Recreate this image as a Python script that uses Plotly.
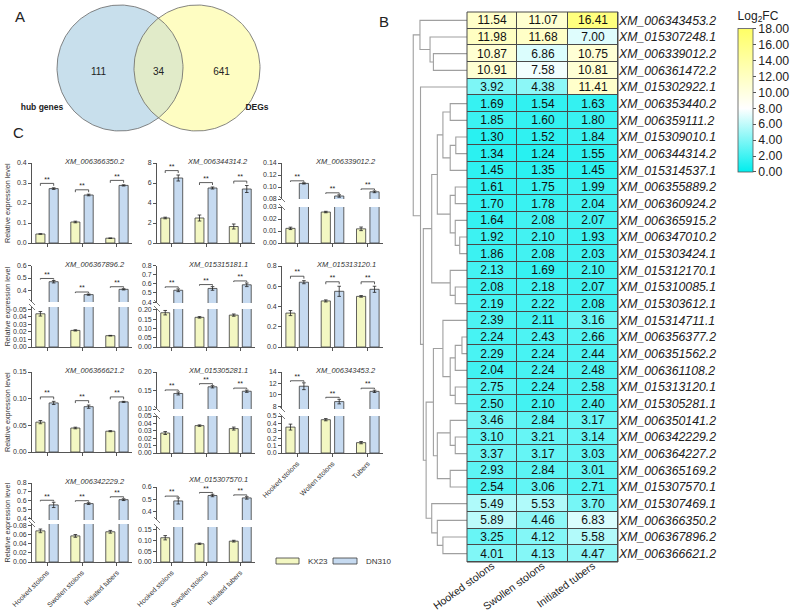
import numpy as np
import plotly.graph_objects as go

W, H = 791, 611
FONT = "Liberation Sans"
TXT = "#222222"


def px(x):
    return x / W


def py(y):
    return 1 - y / H


# ---------------- data ----------------
venn_sets = ["hub genes", "DEGs"]
venn_counts = [111, 34, 641]  # hub only, shared, DEGs only

genes = ["XM_006343453.2", "XM_015307248.1", "XM_006339012.2", "XM_006361472.2", "XM_015302922.1",
         "XM_006353440.2", "XM_006359111.2", "XM_015309010.1", "XM_006344314.2", "XM_015314537.1",
         "XM_006355889.2", "XM_006360924.2", "XM_006365915.2", "XM_006347010.2", "XM_015303424.1",
         "XM_015312170.1", "XM_015310085.1", "XM_015303612.1", "XM_015314711.1", "XM_006356377.2",
         "XM_006351562.2", "XM_006361108.2", "XM_015313120.1", "XM_015305281.1", "XM_006350141.2",
         "XM_006342229.2", "XM_006364227.2", "XM_006365169.2", "XM_015307570.1", "XM_015307469.1",
         "XM_006366350.2", "XM_006367896.2", "XM_006366621.2"]
stages = ["Hooked stolons", "Swollen stolons", "Initiated tubers"]
fc_hooked = [11.54, 11.98, 10.87, 10.91, 3.92, 1.69, 1.85, 1.30, 1.34, 1.45, 1.61, 1.70, 1.64, 1.92, 1.86,
             2.13, 2.08, 2.19, 2.39, 2.24, 2.29, 2.04, 2.75, 2.50, 3.46, 3.10, 3.37, 2.93, 2.54, 5.49, 5.89,
             3.25, 4.01]
fc_swollen = [11.07, 11.68, 6.86, 7.58, 4.38, 1.54, 1.60, 1.52, 1.24, 1.35, 1.75, 1.78, 2.08, 2.10, 2.08,
              1.69, 2.18, 2.22, 2.11, 2.43, 2.24, 2.24, 2.24, 2.10, 2.84, 3.21, 3.17, 2.84, 3.06, 5.53, 4.46,
              4.12, 4.13]
fc_initiated = [16.41, 7.00, 10.75, 10.81, 11.41, 1.63, 1.80, 1.84, 1.55, 1.45, 1.99, 2.04, 2.07, 1.93, 2.03,
                2.10, 2.07, 2.08, 3.16, 2.66, 2.44, 2.48, 2.58, 2.40, 3.17, 3.14, 3.03, 3.01, 2.71, 3.70, 6.83,
                5.58, 4.47]
cbar_ticks = [0, 2, 4, 6, 8, 10, 12, 14, 16, 18]


# dendrogram topology: (left, right, height); leaves are row indices
def N(a, b, h):
    return (a, b, h)


top4 = N(0, N(1, N(2, 3, 0.60), 0.66), 0.84)
g5_9 = N(N(5, 6, 0.30), N(N(7, 8, 0.20), 9, 0.30), 0.43)
g10_14 = N(N(10, 11, 0.21), N(12, N(13, 14, 0.13), 0.21), 0.30)
g5_14 = N(g5_9, g10_14, 0.53)
g15_17 = N(15, N(16, 17, 0.21), 0.30)
g5_17 = N(g5_14, g15_17, 0.63)
g18_23 = N(18, N(N(N(19, 20, 0.09), 21, 0.21), N(22, 23, 0.21), 0.30), 0.43)
g24_28 = N(N(24, N(25, 26, 0.21), 0.30), N(27, 28, 0.30), 0.53)
g18_28 = N(g18_23, g24_28, 0.60)
g29_32 = N(29, N(30, N(31, 32, 0.43), 0.53), 0.63)
g18_32 = N(g18_28, g29_32, 0.73)
tree = N(top4, N(4, N(g5_17, g18_32, 0.78), 0.83), 0.96)

bar_genes = ["XM_006366350.2", "XM_006344314.2", "XM_006339012.2", "XM_006367896.2", "XM_015315181.1",
             "XM_015313120.1", "XM_006366621.2", "XM_015305281.1", "XM_006343453.2", "XM_006342229.2",
             "XM_015307570.1"]
stage_labels = ["Hooked stolons", "Swollen stolons", "Initiated tubers"]
stage_labels_p9 = ["Hooked stolons", "Wollen stolons", "Tubers"]
kx23 = [[0.045, 0.105, 0.024], [2.5, 2.5, 1.65], [0.0122, 0.0258, 0.0118], [0.044, 0.022, 0.015],
        [0.185, 0.160, 0.172], [0.335, 0.455, 0.500], [0.056, 0.045, 0.039], [0.027, 0.037, 0.033],
        [0.35, 0.45, 0.14], [0.068, 0.057, 0.066], [0.113, 0.085, 0.097]]
kx23_err = [[0.001, 0.004, 0.001], [0.08, 0.3, 0.25], [0.001, 0.0006, 0.0015], [0.003, 0.0008, 0.0004],
            [0.012, 0.004, 0.006], [0.025, 0.01, 0.008], [0.003, 0.0015, 0.001], [0.002, 0.001, 0.002],
            [0.04, 0.015, 0.015], [0.004, 0.003, 0.003], [0.01, 0.003, 0.004]]
dn310 = [[0.272, 0.240, 0.288], [6.5, 5.5, 5.4], [0.106, 0.085, 0.092], [0.47, 0.365, 0.408],
         [0.53, 0.55, 0.59], [0.64, 0.55, 0.57], [0.092, 0.085, 0.094], [0.142, 0.160, 0.148],
         [11.5, 8.8, 10.6], [0.55, 0.565, 0.61], [0.485, 0.53, 0.51]]
dn310_err = [[0.004, 0.004, 0.003], [0.3, 0.1, 0.35], [0.001, 0.002, 0.0015], [0.01, 0.005, 0.005],
             [0.015, 0.02, 0.02], [0.015, 0.05, 0.03], [0.003, 0.003, 0.001], [0.004, 0.003, 0.003],
             [0.6, 0.4, 0.2], [0.03, 0.01, 0.01], [0.025, 0.01, 0.01]]
series_names = ["KX23", "DN310"]

# ---------------- layout geometry (pixels) ----------------
cols_x = [(32, 132), (157, 255), (282, 383)]
# each panel: column, segments (top_px, bottom_px, range, tickvals, fmt) from top to bottom, x labels, title y
panel_geo = [
    (0, [(163, 243, [0, 0.4], [0, 0.1, 0.2, 0.3, 0.4], ".1f")], None, 162),
    (1, [(163, 243, [0, 8], [0, 2, 4, 6, 8], ".0f")], None, 162),
    (2, [(163, 199, [0.08, 0.14], [0.08, 0.10, 0.12, 0.14], ".2f"),
         (207, 243, [0, 0.03], [0, 0.01, 0.02, 0.03], ".2f")], None, 162),
    (0, [(265.7, 302, [0.305, 0.6], [0.4, 0.5, 0.6], ".1f"),
         (307, 347, [0, 0.053], [0, 0.01, 0.02, 0.03, 0.04, 0.05], ".2f")], None, 264),
    (1, [(265.7, 303, [0.39, 0.8], [0.4, 0.5, 0.6, 0.7, 0.8], ".1f"),
         (309, 347, [0, 0.205], [0, 0.05, 0.10, 0.15, 0.20], ".2f")], None, 264),
    (2, [(266, 347, [0, 0.8], [0, 0.2, 0.4, 0.6, 0.8], ".1f")], None, 264),
    (0, [(372, 452, [0, 0.15], [0, 0.05, 0.10, 0.15], ".2f")], None, 370),
    (1, [(372, 409, [0.10, 0.20], [0.10, 0.15, 0.20], ".2f"),
         (416, 453, [0, 0.05], [0, 0.01, 0.02, 0.03, 0.04, 0.05], ".2f")], None, 370),
    (2, [(372, 409, [7.5, 14], [8, 10, 12, 14], ".0f"),
         (416, 453, [0, 0.5], [0, 0.1, 0.2, 0.3, 0.4, 0.5], ".1f")], stage_labels_p9, 370),
    (0, [(483, 520, [0.378, 0.8], [0.4, 0.5, 0.6, 0.7, 0.8], ".1f"),
         (524, 562, [0, 0.083], [0, 0.02, 0.04, 0.06, 0.08], ".2f")], stage_labels, 481),
    (1, [(487, 520, [0.328, 0.6], [0.4, 0.5, 0.6], ".1f"),
         (527, 562, [0, 0.163], [0, 0.05, 0.10, 0.15], ".2f")], stage_labels, 479),
]
YELLOW = "#F3F7C2"
BLUE = "#C6DAF0"
AXC = "#555555"

layout = dict(width=W, height=H, margin=dict(l=0, r=0, t=0, b=0, autoexpand=False), autosize=False,
              paper_bgcolor="white", plot_bgcolor="rgba(0,0,0,0)", showlegend=False,
              barmode="overlay", font=dict(family=FONT, color=TXT), hovermode=False)
traces, shapes, annotations = [], [], []
cnt = [0]


def add_axes(xd, yd, xa, ya):
    cnt[0] += 1
    s = "" if cnt[0] == 1 else str(cnt[0])
    xdict = dict(domain=[px(xd[0]), px(xd[1])], anchor="y" + s, automargin=False)
    xdict.update(xa)
    layout["xaxis" + s] = xdict
    layout["yaxis" + s] = dict(domain=[py(yd[1]), py(yd[0])], anchor="x" + s, automargin=False, **ya)
    return "x" + s, "y" + s


# ---------------- A: Venn ----------------
vx, vy = add_axes((0, 395), (0, 140), dict(range=[0, 395], visible=False),
                  dict(range=[140, 0], visible=False))
r = 63.0
c1, c2, cy = 120.0, 197.0, 68.0
th = np.linspace(0, 2 * np.pi, 240)
for cx, col in [(c1, "#C8DFEC"), (c2, "#FEFDC2")]:
    traces.append(go.Scatter(x=cx + r * np.cos(th), y=cy + r * np.sin(th), mode="lines", fill="toself",
                             fillcolor=col, line=dict(width=0), xaxis=vx, yaxis=vy, hoverinfo="skip"))
d = c2 - c1
alpha = np.arccos((d / 2) / r)
ta = np.linspace(-alpha, alpha, 80)
tb = np.linspace(np.pi - alpha, np.pi + alpha, 80)
lx = np.concatenate([c1 + r * np.cos(ta), c2 + r * np.cos(tb)])
ly = np.concatenate([cy + r * np.sin(ta), cy + r * np.sin(tb)])
traces.append(go.Scatter(x=lx, y=ly, mode="lines", fill="toself", fillcolor="#E1EBC9",
                         line=dict(width=0), xaxis=vx, yaxis=vy, hoverinfo="skip"))
for cx in (c1, c2):
    traces.append(go.Scatter(x=cx + r * np.cos(th), y=cy + r * np.sin(th), mode="lines",
                             line=dict(color="#666666", width=0.8), xaxis=vx, yaxis=vy, hoverinfo="skip"))
region_x = [((c1 - r) + (c2 - r)) / 2 + 3, (c1 + c2) / 2, ((c1 + r) + (c2 + r)) / 2]
traces.append(go.Scatter(x=region_x, y=[cy + 4] * 3, mode="text", text=[str(v) for v in venn_counts],
                         textfont=dict(size=10, color=TXT, family=FONT), xaxis=vx, yaxis=vy,
                         hoverinfo="skip"))
traces.append(go.Scatter(x=[c1 - r - 15, c2 + r - 3], y=[cy + 40, cy + 40], mode="text",
                         text=["<b>%s</b>" % s for s in venn_sets],
                         textfont=dict(size=8.5, color=TXT, family=FONT), xaxis=vx, yaxis=vy,
                         hoverinfo="skip"))

# ---------------- B: heatmap ----------------
hx, hy = add_axes((467, 618), (12, 562),
                  dict(range=[-0.5, 2.5], tickangle=-36, tickfont=dict(size=10.5, color=TXT, family=FONT),
                       ticks="", showgrid=False, zeroline=False, showline=False,
                       anchor="free", position=py(557)),
                  dict(range=[32.5, -0.5], side="right", showgrid=False, zeroline=False, ticks="",
                       tickfont=dict(size=12.3, color=TXT, family=FONT, style="italic")))
z = [[a, b, c] for a, b, c in zip(fc_hooked, fc_swollen, fc_initiated)]
shapes.append(dict(type="rect", xref=hx + " domain", yref=hy + " domain", x0=0, x1=1, y0=0, y1=1,
                   fillcolor="#4A4A4A", line=dict(width=0), layer="below"))
traces.append(go.Heatmap(
    z=z, x=stages, y=genes, xaxis=hx, yaxis=hy, zmin=0, zmax=18, xgap=1, ygap=1,
    colorscale=[[0, "#00EEEE"], [8 / 18, "#FFFFFF"], [1, "#FFFF66"]],
    texttemplate="%{z:.2f}", textfont=dict(size=12, color="#111111", family=FONT), hoverinfo="skip",
    colorbar=dict(x=px(738), xanchor="left", y=py(8), yanchor="top", len=164 / H, lenmode="fraction",
                  thickness=15, thicknessmode="pixels", xpad=0, ypad=0, outlinewidth=0.8,
                  outlinecolor="#555555", tickvals=cbar_ticks, ticktext=["%.2f" % t for t in cbar_ticks],
                  ticks="outside", ticklen=3, tickcolor="#555555",
                  tickfont=dict(size=12.3, color=TXT, family=FONT),
                  title=dict(text="Log<sub>2</sub>FC", side="top", font=dict(size=12, color=TXT, family=FONT)))))
shapes.append(dict(type="rect", xref=hx + " domain", yref=hy + " domain", x0=0, x1=1, y0=0, y1=1,
                   line=dict(color="#4A4A4A", width=1), layer="above"))

# dendrogram
dx, dy = add_axes((411, 467), (12, 562), dict(range=[1, 0], visible=False),
                  dict(range=[32.5, -0.5], visible=False))
lxs, lys = [], []


def draw(node):
    if isinstance(node, int):
        return float(node), 0.0
    a, b, h = node
    ya, ha = draw(a)
    yb, hb = draw(b)
    lxs.extend([ha, h, h, hb, None])
    lys.extend([ya, ya, yb, yb, None])
    return (ya + yb) / 2, h


draw(tree)
traces.append(go.Scatter(x=lxs, y=lys, mode="lines", line=dict(color="#A0A0A0", width=1.1),
                         xaxis=dx, yaxis=dy, hoverinfo="skip"))

# ---------------- C: bar panels ----------------
off, bw = 0.19, 0.26
grp = np.arange(3)
for p, (col, segs, xlabels, title_y) in enumerate(panel_geo):
    x0p, x1p = cols_x[col]
    nseg = len(segs)
    for j, (tp, bp, rng, tv, fmt) in enumerate(segs):
        last = j == nseg - 1
        xa = dict(range=[-0.43, 2.43], showgrid=False, zeroline=False, fixedrange=True)
        if last:
            xa.update(showline=True, linecolor=AXC, linewidth=0.8, ticks="outside", ticklen=3,
                      tickwidth=0.8, tickcolor=AXC, tickvals=list(grp),
                      ticktext=xlabels if xlabels else ["", "", ""],
                      showticklabels=bool(xlabels), tickangle=-45,
                      tickfont=dict(size=7.0, color="#333333", family=FONT))
        else:
            xa.update(visible=False)
        ya = dict(range=rng, showgrid=False, zeroline=False, showline=True, linecolor=AXC, linewidth=0.8,
                  ticks="outside", ticklen=3, tickwidth=0.8, tickcolor=AXC, tickvals=tv,
                  ticktext=[format(v, fmt) for v in tv], tickfont=dict(size=7.0, color="#333333", family=FONT))
        ax, ay = add_axes((x0p, x1p), (tp, bp), xa, ya)
        for k, (vals, errs, colr) in enumerate([(kx23[p], kx23_err[p], YELLOW), (dn310[p], dn310_err[p], BLUE)]):
            traces.append(go.Bar(x=grp + (-off if k == 0 else off), y=vals, width=bw, name=series_names[k],
                                 marker=dict(color=colr, line=dict(color="#3A3A3A", width=0.8)),
                                 error_y=dict(type="data", array=errs, thickness=0.8, width=1.8,
                                              color="#222222"),
                                 xaxis=ax, yaxis=ay, hoverinfo="skip"))
        if j == 0:
            span = rng[1] - rng[0]
            bxs, bys, sx, sy = [], [], [], []
            for g in range(3):
                top = max(dn310[p][g] + dn310_err[p][g], kx23[p][g] + kx23_err[p][g])
                hgt = top + 0.055 * span
                t = 0.03 * span
                bxs += [g - off, g - off, g + off, g + off, None]
                bys += [hgt - t, hgt, hgt, hgt - t, None]
                sx.append(g)
                sy.append(hgt)
            traces.append(go.Scatter(x=bxs, y=bys, mode="lines", line=dict(color="#333333", width=0.8),
                                     xaxis=ax, yaxis=ay, hoverinfo="skip", cliponaxis=False))
            traces.append(go.Scatter(x=sx, y=sy, mode="text", text=["**"] * 3, textposition="top center",
                                     textfont=dict(size=7, color="#222222", family=FONT),
                                     xaxis=ax, yaxis=ay, hoverinfo="skip", cliponaxis=False))
            annotations.append(dict(text="<i>%s</i>" % bar_genes[p], x=px(x1p - 5), y=py(title_y),
                                    xref="paper", yref="paper", xanchor="right", yanchor="middle",
                                    showarrow=False, font=dict(size=7.5, color="#333333", family=FONT)))
        if nseg > 1:
            yb = bp if j == 0 else tp
            shapes.append(dict(type="line", xref="paper", yref="paper", x0=px(x0p - 3), x1=px(x0p + 3),
                               y0=py(yb - 3), y1=py(yb + 3), line=dict(color=AXC, width=0.8)))
    if col == 0:
        yc = (segs[0][0] + segs[-1][1]) / 2
        annotations.append(dict(text="Relative expression level", x=px(7), y=py(yc), xref="paper",
                                yref="paper", textangle=-90, showarrow=False, xanchor="center",
                                yanchor="middle", font=dict(size=7.2, color="#333333", family=FONT)))

# legend
for (x0l, x1l, colr, name) in [(276, 299, YELLOW, series_names[0]), (333, 357, BLUE, series_names[1])]:
    shapes.append(dict(type="rect", xref="paper", yref="paper", x0=px(x0l), x1=px(x1l), y0=py(564),
                       y1=py(558), fillcolor=colr, line=dict(color="#3A3A3A", width=0.8)))
    annotations.append(dict(text=name, x=px(x1l + 7), y=py(561), xref="paper", yref="paper",
                            xanchor="left", yanchor="middle", showarrow=False,
                            font=dict(size=8, color="#333333", family=FONT)))

# panel letters
for letter, xl, yl in [("A", 20, 16), ("B", 384, 22), ("C", 18, 132)]:
    annotations.append(dict(text=letter, x=px(xl), y=py(yl), xref="paper", yref="paper", xanchor="center",
                            yanchor="middle", showarrow=False, font=dict(size=15, color=TXT, family=FONT)))

layout["shapes"] = shapes
layout["annotations"] = annotations
fig = go.Figure(data=traces, layout=layout)
fig.write_html("out.html", config={"displayModeBar": False},
               post_script="document.body.style.margin='0';")
